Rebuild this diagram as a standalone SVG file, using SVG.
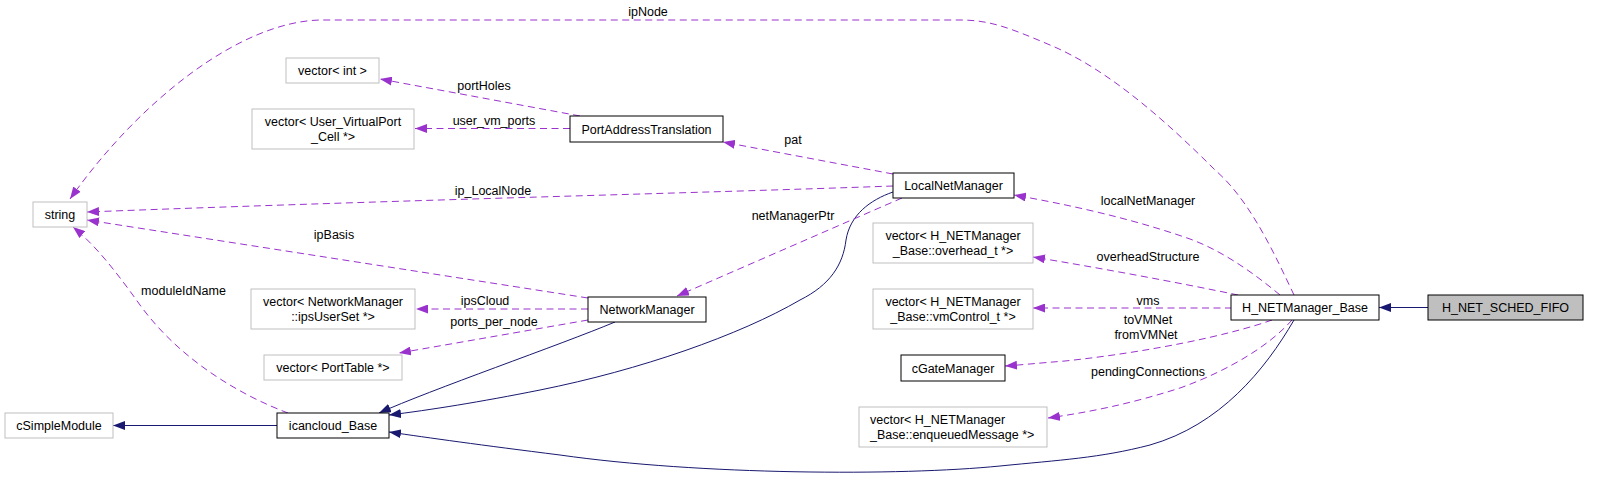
<svg xmlns="http://www.w3.org/2000/svg" width="1605" height="480" viewBox="0 0 1605 480">
<style>
  text { font-family: "Liberation Sans", Arial, sans-serif; font-size: 12.5px; fill: #000; }
  .n text { text-anchor: middle; }
  .box { fill: #fff; stroke: #000; stroke-width: 1; }
  .gbox { fill: #fff; stroke: #bfbfbf; stroke-width: 1; }
  .cur { fill: #bfbfbf; stroke: #000; stroke-width: 1; }
  .inh { fill: none; stroke: #191970; stroke-width: 1; marker-end: url(#an); }
  .use { fill: none; stroke: #9a32cd; stroke-width: 1; stroke-dasharray: 7,4.5; marker-end: url(#ap); }
  .lbl { text-anchor: middle; }
</style>
<defs>
  <marker id="an" viewBox="0 0 12 9" refX="12" refY="4.5" markerWidth="12" markerHeight="9" markerUnits="userSpaceOnUse" orient="auto">
    <path d="M0,0 L12,4.5 L0,9 z" fill="#191970"/>
  </marker>
  <marker id="ap" viewBox="0 0 12 9" refX="12" refY="4.5" markerWidth="12" markerHeight="9" markerUnits="userSpaceOnUse" orient="auto">
    <path d="M0,0 L12,4.5 L0,9 z" fill="#9a32cd"/>
  </marker>
</defs>
<rect width="1605" height="480" fill="#fff"/>

<g id="connectors">
  <path class="inh" d="M1428,307.5 L1379,307.5"/>
  <path class="inh" d="M1294,320 C1265,370 1220,425 1150,445 C1100,458 1060,460 1000,466 C900,476 700,475 560,455 C480,445 430,438 389,432"/>
  <path class="inh" d="M893,192 C870,200 850,215 846,240 C843,265 830,285 800,300 C740,335 640,370 540,390 C480,402 430,410 389,415"/>
  <path class="inh" d="M615,322 C560,345 430,390 379,413"/>
  <path class="inh" d="M277,425.5 L113,425.5"/>

  <path class="use" d="M1294,295 C1275,255 1250,200 1215,170 C1170,125 1110,70 1050,45 C1010,28 990,20 960,20 L320,20 C240,22 140,100 70,199"/>
  <path class="use" d="M1280,295 C1250,270 1220,250 1190,239 C1130,218 1070,205 1014,195"/>
  <path class="use" d="M1238,295 C1180,283 1100,268 1033,257"/>
  <path class="use" d="M1232,308 L1033,308"/>
  <path class="use" d="M1272,320 C1230,335 1150,352 1065,361 C1040,363 1020,365 1005,366"/>
  <path class="use" d="M1292,320 C1270,345 1230,370 1180,388 C1130,404 1090,412 1048,418"/>
  <path class="use" d="M893,174 L723,142"/>
  <path class="use" d="M893,186 C700,193 400,200 87,212"/>
  <path class="use" d="M902,198 L677,296"/>
  <path class="use" d="M580,116 L380,79"/>
  <path class="use" d="M570,128.5 L415,128.5"/>
  <path class="use" d="M588,298 L87,220"/>
  <path class="use" d="M588,309 L416,309"/>
  <path class="use" d="M588,320 L399,353"/>
  <path class="use" d="M288,413 C240,395 180,360 140,305 C115,270 95,245 73,227"/>

  <text class="lbl" x="648" y="16">ipNode</text>
  <text class="lbl" x="1148" y="204.5">localNetManager</text>
  <text class="lbl" x="1148" y="260.5">overheadStructure</text>
  <text class="lbl" x="1148" y="304.5">vms</text>
  <text class="lbl" x="1148" y="324">toVMNet</text>
  <text class="lbl" x="1146" y="339">fromVMNet</text>
  <text class="lbl" x="1148" y="376">pendingConnections</text>
  <text class="lbl" x="793" y="144">pat</text>
  <text class="lbl" x="493" y="195">ip_LocalNode</text>
  <text class="lbl" x="793" y="219.5">netManagerPtr</text>
  <text class="lbl" x="484" y="89.5">portHoles</text>
  <text class="lbl" x="494" y="125">user_vm_ports</text>
  <text class="lbl" x="334" y="238.5">ipBasis</text>
  <text class="lbl" x="485" y="305">ipsCloud</text>
  <text class="lbl" x="494" y="325.5">ports_per_node</text>
  <text class="lbl" x="183.5" y="295">moduleIdName</text>
</g>

<g id="node-H_NET_SCHED_FIFO" class="n"><rect class="cur" x="1428" y="295" width="155" height="25"/><text x="1505.5" y="312">H_NET_SCHED_FIFO</text></g>
<g id="node-H_NETManager_Base" class="n"><rect class="box" x="1231" y="295" width="148" height="25"/><text x="1305" y="312">H_NETManager_Base</text></g>
<g id="node-LocalNetManager" class="n"><rect class="box" x="893" y="173" width="121" height="25"/><text x="953.5" y="190">LocalNetManager</text></g>
<g id="node-vec-overhead" class="n"><rect class="gbox" x="873" y="223" width="160" height="40"/><text x="953" y="239.5">vector&lt; H_NETManager</text><text x="953" y="254.5">_Base::overhead_t *&gt;</text></g>
<g id="node-vec-vmControl" class="n"><rect class="gbox" x="873" y="289" width="160" height="40"/><text x="953" y="305.5">vector&lt; H_NETManager</text><text x="953" y="320.5">_Base::vmControl_t *&gt;</text></g>
<g id="node-cGateManager" class="n"><rect class="box" x="901" y="355" width="104" height="26"/><text x="953" y="372.5">cGateManager</text></g>
<g id="node-vec-enqueued"><rect class="gbox" x="859" y="407" width="188" height="40"/><text x="870" y="423.5">vector&lt; H_NETManager</text><text x="870" y="438.5">_Base::enqueuedMessage *&gt;</text></g>
<g id="node-PortAddressTranslation" class="n"><rect class="box" x="570" y="116" width="153" height="26"/><text x="646.5" y="133.5">PortAddressTranslation</text></g>
<g id="node-NetworkManager" class="n"><rect class="box" x="588" y="297" width="118" height="25"/><text x="647" y="314">NetworkManager</text></g>
<g id="node-vec-int" class="n"><rect class="gbox" x="286" y="58" width="93" height="25"/><text x="332.5" y="75">vector&lt; int &gt;</text></g>
<g id="node-vec-uvp" class="n"><rect class="gbox" x="252" y="109" width="162" height="40"/><text x="333" y="125.5">vector&lt; User_VirtualPort</text><text x="333" y="140.5">_Cell *&gt;</text></g>
<g id="node-vec-ipsUserSet" class="n"><rect class="gbox" x="251" y="289" width="164" height="40"/><text x="333" y="305.5">vector&lt; NetworkManager</text><text x="333" y="320.5">::ipsUserSet *&gt;</text></g>
<g id="node-vec-PortTable" class="n"><rect class="gbox" x="264" y="355" width="138" height="25"/><text x="333" y="372">vector&lt; PortTable *&gt;</text></g>
<g id="node-icancloud_Base" class="n"><rect class="box" x="277" y="413" width="112" height="25"/><text x="333" y="430">icancloud_Base</text></g>
<g id="node-string" class="n"><rect class="gbox" x="33" y="202" width="54" height="25"/><text x="60" y="219">string</text></g>
<g id="node-cSimpleModule" class="n"><rect class="gbox" x="5" y="413" width="108" height="25"/><text x="59" y="430">cSimpleModule</text></g>
</svg>
